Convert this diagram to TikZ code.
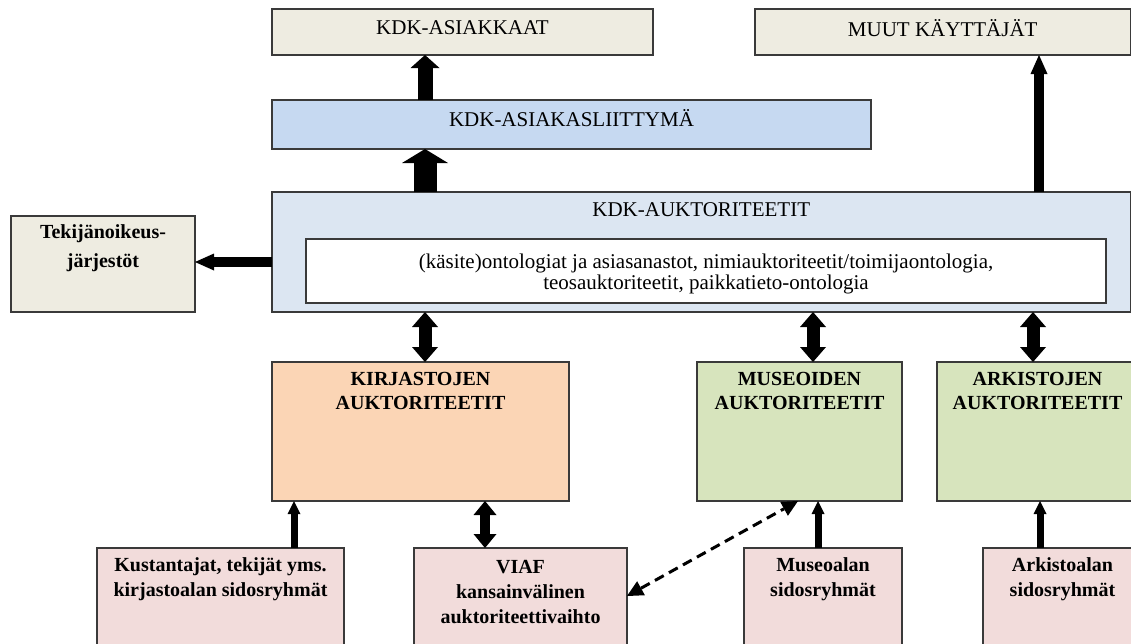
\documentclass[tikz,border=0pt]{standalone}
\usepackage{fontspec}
\setmainfont{Liberation Serif}
\usetikzlibrary{arrows.meta}
\definecolor{boxline}{HTML}{3A3A3A}
\definecolor{beige}{HTML}{EEECE1}
\definecolor{blueA}{HTML}{C6D9F1}
\definecolor{blueB}{HTML}{DCE6F2}
\definecolor{peach}{HTML}{FBD5B5}
\definecolor{greenbox}{HTML}{D7E4BD}
\definecolor{pinkbox}{HTML}{F2DCDB}
\begin{document}
\begin{tikzpicture}[x=1pt,y=-1pt,
  box/.style={draw=boxline,line width=1.3pt,rectangle,anchor=north west,inner sep=0pt,outer sep=0pt},
  tt/.style={align=center,inner sep=0pt,font=\fontsize{21}{25}\selectfont},
  ttb/.style={align=center,inner sep=0pt,font=\fontsize{20}{25}\selectfont\bfseries},
  arrBig/.style={line width=23pt,-{Triangle[width=46pt,length=14pt,line width=0pt]}},
  arrMid/.style={line width=15pt,-{Triangle[width=29pt,length=13pt,line width=0pt]}},
  arrThin/.style={line width=10pt,-{Triangle[width=17pt,length=19pt,line width=0pt]}},
  dblA/.style={line width=13pt,{Triangle[width=26pt,length=15pt,line width=0pt]}-{Triangle[width=26pt,length=15pt,line width=0pt]}},
  dblB/.style={line width=10pt,{Triangle[width=23pt,length=14pt,line width=0pt]}-{Triangle[width=23pt,length=14pt,line width=0pt]}},
  arrSmall/.style={line width=7pt,-{Triangle[width=13pt,length=13pt,line width=0pt]}},
  dashArr/.style={line width=3pt,dash pattern=on 10pt off 6pt,{Triangle[width=16pt,length=16pt,line width=0pt]}-{Triangle[width=16pt,length=16pt,line width=0pt]}}
]
\useasboundingbox (0,0) rectangle (1131,643);
\clip (0,0) rectangle (1131,643);
\fill[white] (0,0) rectangle (1131,643);

% boxes
\node[box,fill=beige,minimum width=381pt,minimum height=46pt] (ask) at (272,9) {};
\node[box,fill=beige,minimum width=375.5pt,minimum height=46pt] (muut) at (755,9) {};
\node[box,fill=blueA,minimum width=599pt,minimum height=49pt] (asl) at (272,100) {};
\node[box,fill=blueB,minimum width=858.5pt,minimum height=120pt] (auk) at (272,192) {};
\node[box,fill=white,minimum width=800pt,minimum height=64pt] (inner) at (306,239) {};
\node[box,fill=beige,minimum width=184pt,minimum height=96pt] (tek) at (11,216) {};
\node[box,fill=peach,minimum width=297pt,minimum height=139pt] (kir) at (272,362) {};
\node[box,fill=greenbox,minimum width=205pt,minimum height=139pt] (mus) at (697,362) {};
\node[box,fill=greenbox,minimum width=215pt,minimum height=139pt] (ark) at (937,362) {};
\node[box,fill=pinkbox,minimum width=247pt,minimum height=110pt] (kus) at (97,548) {};
\node[box,fill=pinkbox,minimum width=213pt,minimum height=110pt] (viaf) at (414,548) {};
\node[box,fill=pinkbox,minimum width=158pt,minimum height=110pt] (musa) at (744,548) {};
\node[box,fill=pinkbox,minimum width=165pt,minimum height=110pt] (arka) at (983,548) {};

% texts
\node[tt] (askT) at ([yshift=-19pt]ask.north) {KDK-ASIAKKAAT};
\node[tt] (muutT) at ([yshift=-19pt]muut.north) {MUUT KÄYTTÄJÄT};
\node[tt] (aslT) at ([yshift=-18pt]asl.north) {KDK-ASIAKASLIITTYMÄ};
\node[tt] (aukT) at ([yshift=-18pt]auk.north) {KDK-AUKTORITEETIT};
\node[align=center,inner sep=0pt,font=\fontsize{21}{21}\selectfont] (innerT) at ([yshift=-3pt]inner.center)
  {(käsite)ontologiat ja asiasanastot, nimiauktoriteetit/toimijaontologia,\\teosauktoriteetit, paikkatieto-ontologia};
\node[ttb,font=\fontsize{20}{29}\selectfont\bfseries] (tekT) at ([yshift=-32pt]tek.north) {Tekijänoikeus-\\järjestöt};
\node[ttb,font=\fontsize{20}{24}\selectfont\bfseries] (kirT) at ([yshift=-29pt]kir.north) {KIRJASTOJEN\\AUKTORITEETIT};
\node[ttb,font=\fontsize{20}{24}\selectfont\bfseries] (musT) at ([yshift=-29pt]mus.north) {MUSEOIDEN\\AUKTORITEETIT};
\node[ttb,font=\fontsize{20}{24}\selectfont\bfseries] (arkT) at ([xshift=-7pt,yshift=-29pt]ark.north) {ARKISTOJEN\\AUKTORITEETIT};
\node[ttb] (kusT) at ([yshift=-31.5pt]kus.north) {Kustantajat, tekijät yms.\\kirjastoalan sidosryhmät};
\node[ttb] (viafT) at ([yshift=-44pt]viaf.north) {VIAF\\kansainvälinen\\auktoriteettivaihto};
\node[ttb] (musaT) at ([yshift=-31.5pt]musa.north) {Museoalan\\sidosryhmät};
\node[ttb] (arkaT) at ([xshift=-3pt,yshift=-31.5pt]arka.north) {Arkistoalan\\sidosryhmät};

% connectors
\draw[arrMid] ([xshift=153pt]asl.north west) -- ([xshift=153pt]ask.south west);
\draw[arrBig] ([xshift=153pt]auk.north west) -- ([xshift=153pt]asl.south west);
\draw[arrThin] ([xshift=767pt]auk.north west) -- ([xshift=284pt]muut.south west);
\draw[arrThin] ([yshift=-70pt]auk.north west) -- ([yshift=-46pt]tek.north east);
\draw[dblA] ([xshift=153pt]auk.south west) -- ([xshift=153pt]kir.north west);
\draw[dblA] ([xshift=541pt]auk.south west) -- ([xshift=116pt]mus.north west);
\draw[dblA] ([xshift=761pt]auk.south west) -- ([xshift=96pt]ark.north west);
\draw[arrSmall] ([xshift=197pt]kus.north west) -- ([xshift=22pt]kir.south west);
\draw[dblB] ([xshift=71pt]viaf.north west) -- ([xshift=213pt]kir.south west);
\draw[dashArr] ([yshift=-48pt]viaf.north east) -- ([xshift=101pt]mus.south west);
\draw[arrSmall] ([xshift=74pt]musa.north west) -- ([xshift=121pt]mus.south west);
\draw[arrSmall] ([xshift=57pt]arka.north west) -- ([xshift=103pt]ark.south west);
\end{tikzpicture}
\end{document}
